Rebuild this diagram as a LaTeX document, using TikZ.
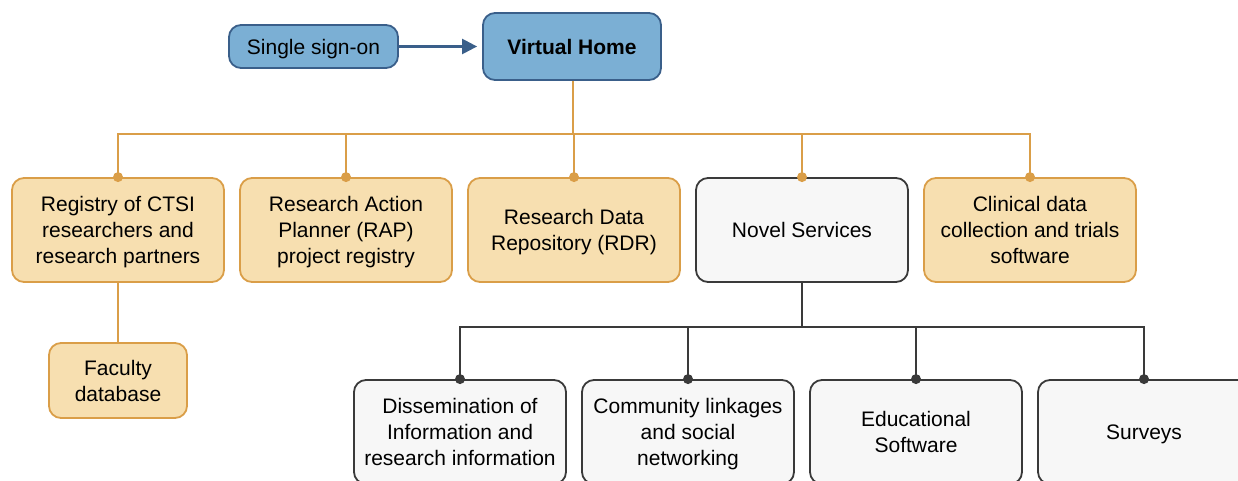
\documentclass[tikz,border=0pt]{standalone}
\usepackage{fontspec}
\setmainfont{Liberation Sans}
\usetikzlibrary{arrows.meta}
\definecolor{bfill}{HTML}{7BAFD4}
\definecolor{bdraw}{HTML}{3A5F8A}
\definecolor{ofill}{HTML}{F7DFB0}
\definecolor{odraw}{HTML}{DA9E48}
\definecolor{gfill}{HTML}{F7F7F7}
\definecolor{gdraw}{HTML}{3A3A3A}
\tikzset{
  box/.style={rounded corners=12pt, line width=1.8pt, align=center, inner sep=2pt,
    text depth=0pt, font=\fontsize{21}{26}\selectfont},
  bluebox/.style={box, fill=bfill, draw=bdraw},
  orangebox/.style={box, fill=ofill, draw=odraw, minimum width=212pt, minimum height=104pt},
  graybox/.style={box, fill=gfill, draw=gdraw, minimum width=212pt, minimum height=104pt},
  oline/.style={draw=odraw, line width=2pt},
  gline/.style={draw=gdraw, line width=2.5pt},
  odot/.style={fill=odraw},
  gdot/.style={fill=gdraw},
}
\begin{document}
\begin{tikzpicture}[x=1pt,y=1pt]
\useasboundingbox (0,0) rectangle (1238,480);
% top
\node[bluebox, minimum width=169pt, minimum height=43pt] (sso) at (313.5,433.5) {Single sign-on};
\node[bluebox, minimum width=178pt, minimum height=67pt] (vh) at (572,433.5) {\textbf{Virtual Home}};
\draw[draw=bdraw, line width=2.4pt, -{Triangle[length=15pt,width=15pt]}, shorten >=5pt] (sso.east) -- (vh.west);
% first row
\node[orangebox] (reg) at (118,250) {Registry of CTSI\\researchers and\\research partners};
\node[orangebox] (rap) at (346,250) {Research Action\\Planner (RAP)\\project registry};
\node[orangebox] (rdr) at (574,250) {Research Data\\Repository (RDR)};
\node[graybox] (nov) at (802,250) {Novel Services};
\node[orangebox] (cli) at (1030,250) {Clinical data\\collection and trials\\software};
\node[orangebox, minimum width=138pt, minimum height=75pt] (fac) at (118,99.5) {Faculty\\database};
% second row
\node[graybox] (dis) at (460,48) {Dissemination of\\Information and\\research information};
\node[graybox] (com) at (688,48) {Community linkages\\and social\\networking};
\node[graybox] (edu) at (916,48) {Educational\\Software};
\node[graybox] (sur) at (1144,48) {Surveys};
% orange connectors
\coordinate (obus) at (573,346);
\foreach \b in {reg,rap,rdr,nov,cli}{
  \draw[oline] (vh.south -| obus) -- (obus) -| (\b.north);
  \fill[odot] (\b.north) circle (5pt);
}
\draw[oline] (reg.south) -- (fac.north);
% gray connectors
\coordinate (gbus) at (802,153);
\foreach \b in {dis,com,edu,sur}{
  \draw[gline] (nov.south) -- (gbus) -| (\b.north);
  \fill[gdot] (\b.north) circle (5pt);
}
\end{tikzpicture}
\end{document}
